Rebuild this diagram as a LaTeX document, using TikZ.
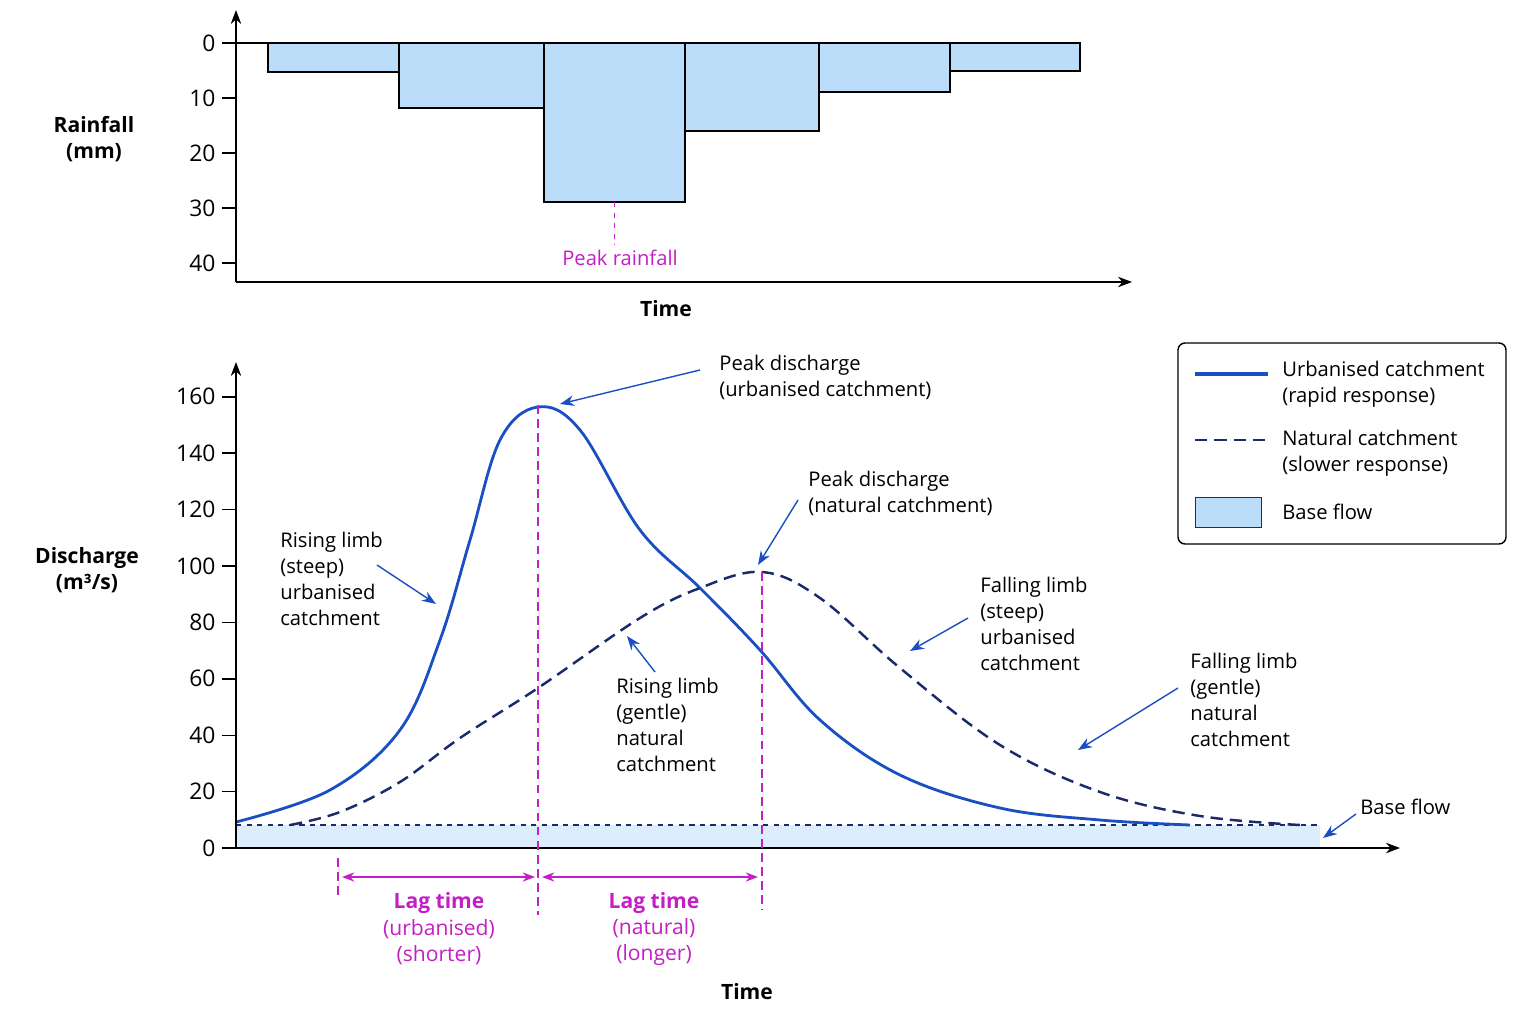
\documentclass[tikz,border=0pt]{standalone}
\usepackage{fontspec}
\setmainfont{Open Sans}
\usetikzlibrary{arrows.meta,positioning}
\begin{document}
\begin{tikzpicture}[x=0.02cm,y=-0.02cm,
    txt/.style={font=\fontsize{11.5}{14.8}\selectfont,align=left,inner sep=0pt},
    tick/.style={font=\fontsize{13}{15}\selectfont},
    ann/.style={-{Stealth[length=8pt]},thick,bblue},
    lag/.style={{Stealth[length=7pt]}-{Stealth[length=7pt]},thick,mag},
    mdash/.style={mag,thick,dash pattern=on 5pt off 3pt}]
        %colores
        \definecolor{bbase}{HTML}{DCEEFC}
        \definecolor{bblue}{HTML}{1A4FC4}
        \definecolor{navy}{HTML}{1A2A6C}
        \definecolor{mag}{HTML}{C41FC4}
        \definecolor{bar}{HTML}{BBDDFA}
        \useasboundingbox (0,0) rectangle (1536,1024);

        % Hietograma
        \foreach \a/\b/\d in {268/399/72,399/544/108,544/685/202,685/819/131,819/950/92,950/1080/71}
            \filldraw[fill=bar,draw=black,thick] (\a,43) rectangle (\b,\d);
        \draw[very thick] (236,43) -- (1080,43);
        \draw[thick,-{Stealth[length=8pt]}] (236,282) -- (236,10);
        \draw[thick,-{Stealth[length=8pt]}] (236,282) -- (1132,282);
        \foreach \y/\ytext in {43/0,98/10,153/20,208/30,263/40}
            \draw[thick] (222,\y) -- (236,\y) node[tick,left=8pt] {\ytext};
        \node[txt,align=center,font=\fontsize{12}{15}\selectfont\bfseries] (rain) at (94,139) {Rainfall\\(mm)};
        \node[font=\fontsize{12}{14.5}\selectfont\bfseries] (time1) at (666,309) {Time};
        \coordinate (pk) at (614,202);
        \node[txt,mag] (peakrain) at (620,258) {Peak rainfall};
        \draw[mag,dashed] (pk) -- ([yshift=3pt]peakrain.north -| pk);

        % Hidrograma, flujo base
        \fill[bbase] (236,825) rectangle (1320,848);
        \draw[navy,thick,dashed] (236,825) -- (1320,825);
        \draw[bblue,line width=1.6pt] plot[smooth,tension=0.6] coordinates {(236,822) (330,790) (400,730) (440,640) (470,540) (500,440) (538,407) (580,430) (640,530) (700,588) (760,650) (820,720) (900,775) (1000,808) (1100,820) (1190,825)};
        \draw[navy,line width=1.4pt,dash pattern=on 7pt off 4pt] plot[smooth,tension=0.6] coordinates {(290,825) (340,812) (400,782) (460,738) (538,688) (640,618) (700,588) (762,572) (820,598) (900,668) (1000,745) (1100,792) (1200,816) (1300,825)};

        %Ejes
        \draw[thick,-{Stealth[length=8pt]}] (236,848) -- (236,362);
        \draw[thick,-{Stealth[length=8pt]}] (236,848) -- (1400,848);
        \foreach \v in {0,20,...,160}
            \draw[thick] (222,848-2.82*\v) -- (236,848-2.82*\v) node[tick,left=8pt] {\v};
        \node[txt,align=center,font=\fontsize{12}{15}\selectfont\bfseries] (dis) at (87,570) {Discharge\\(m³/s)};
        \node[font=\fontsize{12}{14.5}\selectfont\bfseries] (time2) at (747,992) {Time};

        % Tiempo de retardo
        \coordinate (r0) at (338,858); \coordinate (r1) at (538,405); \coordinate (r2) at (762,572);
        \draw[mdash] (r0) -- (338,898);
        \draw[mdash] (r1) -- (538,915);
        \draw[mdash] (r2) -- (762,910);
        \draw[lag] (342,877) -- (535,877);
        \draw[lag] (542,877) -- (758,877);
        \node[txt,mag,align=center,font=\fontsize{12}{15}\selectfont] (lagu) at (439,929) {\textbf{Lag time}\\(urbanised)\\(shorter)};
        \node[txt,mag,align=center,font=\fontsize{12}{15}\selectfont] (lagn) at (654,929) {\textbf{Lag time}\\(natural)\\(longer)};

        % Anotaciones
        \node[txt,anchor=west] (pdu) at (719,377) {Peak discharge\\(urbanised catchment)};
        \coordinate (pdu-t) at (560,404);
        \draw[ann] (700,370) -- (pdu-t);
        \node[txt,anchor=west] (pdn) at (808,493) {Peak discharge\\(natural catchment)};
        \coordinate (pdn-t) at (758,565);
        \draw[ann] (798,500) -- (pdn-t);
        \node[txt,anchor=west] (rls) at (280,579) {Rising limb\\(steep)\\urbanised\\catchment};
        \coordinate (rls-t) at (436,604);
        \draw[ann] (377,565) -- (rls-t);
        \node[txt,anchor=west] (rlg) at (616,725) {Rising limb\\(gentle)\\natural\\catchment};
        \coordinate (rlg-t) at (627,636);
        \draw[ann] (655,672) -- (rlg-t);
        \node[txt,anchor=west] (fls) at (980,624) {Falling limb\\(steep)\\urbanised\\catchment};
        \coordinate (fls-t) at (910,651);
        \draw[ann] (968,618) -- (fls-t);
        \node[txt,anchor=west] (flg) at (1190,700) {Falling limb\\(gentle)\\natural\\catchment};
        \coordinate (flg-t) at (1078,750);
        \draw[ann] (1178,688) -- (flg-t);
        \node[txt,anchor=west] (bf) at (1360,807) {Base flow};
        \coordinate (bf-t) at (1323,838);
        \draw[ann] (1356,814) -- (bf-t);

        % Leyenda
        \draw[rounded corners=4pt,thick] (1178,343) rectangle (1506,544);
        \draw[bblue,line width=2pt] (1195,374) -- (1268,374);
        \node[txt,anchor=west] (l1) at (1282,384) {Urbanised catchment\\(rapid response)};
        \draw[navy,line width=1.6pt,dash pattern=on 7pt off 4pt] (1195,440) -- (1268,440);
        \node[txt,anchor=west] (l2) at (1282,453) {Natural catchment\\(slower response)};
        \filldraw[fill=bar,draw=navy] (1195,497) rectangle (1261,527);
        \node[txt,anchor=west] (l3) at (1282,512) {Base flow};
\end{tikzpicture}
\end{document}
